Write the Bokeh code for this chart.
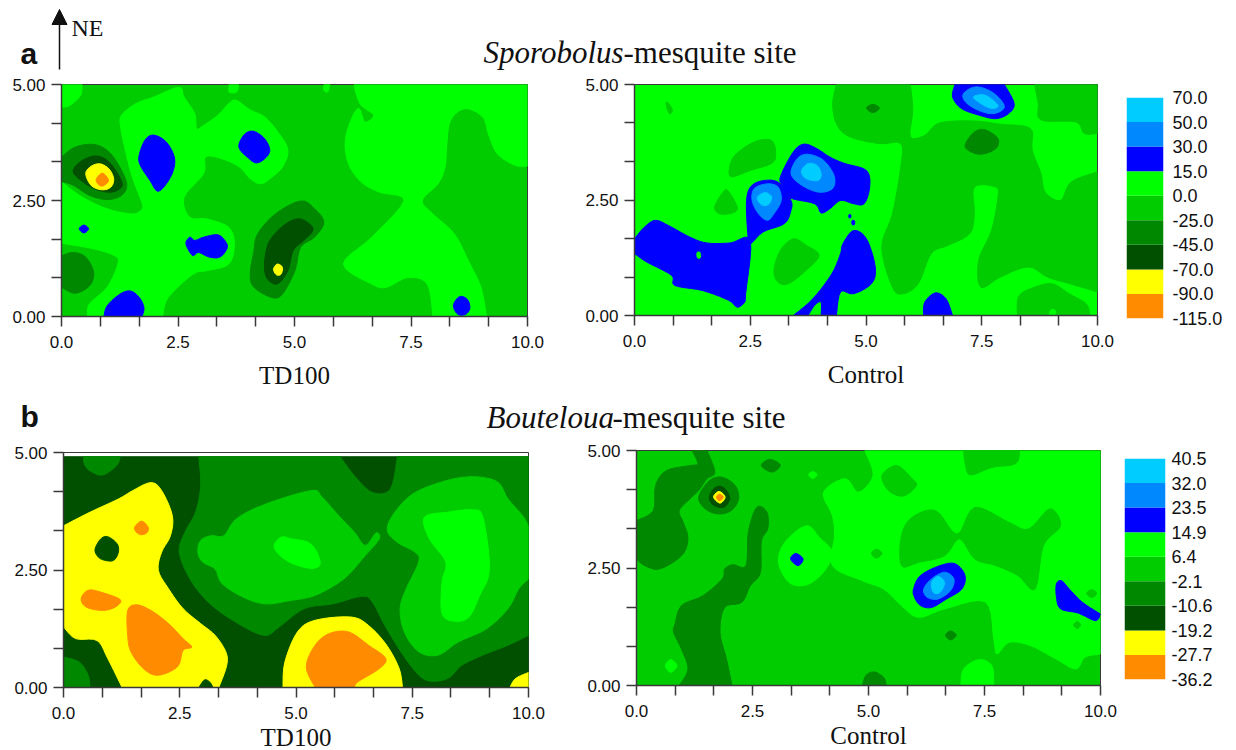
from bokeh.embed import file_html
from bokeh.resources import INLINE
from bokeh.plotting import figure
from bokeh.layouts import column, row
from bokeh.models import (Arrow, ColumnDataSource, FixedTicker, Label, NormalHead, Range1d)

# ---- legend data ----------------------------------------------------------
COLORS = ["#ff8c00", "#ffff00", "#005000", "#008800", "#00cc00",
          "#00ff00", "#0000ff", "#0088ff", "#00ccff"]
ORANGE, YELLOW, DARKEST, DARK, MID, BRIGHT, BLUE, MIDBLUE, LIGHT = COLORS
levels_a = ["-115.0", "-90.0", "-70.0", "-45.0", "-25.0", "0.0", "15.0", "30.0", "50.0", "70.0"]
levels_b = ["-36.2", "-27.7", "-19.2", "-10.6", "-2.1", "6.4", "14.9", "23.5", "32.0", "40.5"]
x_ticks = [0, 0.8333, 1.6667, 2.5, 3.3333, 4.1667, 5, 5.8333, 6.6667, 7.5, 8.3333, 9.1667, 10]
x_labels = {2.5: "2.5", 0: "0.0", 5: "5.0", 7.5: "7.5", 10: "10.0"}
y_ticks = [0, 0.8333, 1.6667, 2.5, 3.3333, 4.1667, 5]
y_labels = {0: "0.00", 2.5: "2.50", 5: "5.00"}

# ---- panel a, TD100: contour outlines (x, y) ------------------------------
a1_b1 = [(0,5),(.44,5),(.41,4.77),(.18,4.55),(0,4.51)]
a1_b2 = [(0,2.90),(.45,2.57),(.98,2.32),(1.52,2.21),(1.73,2.32),(1.71,2.50),(1.52,3.0),(1.37,3.58),(1.27,4.08),(1.29,4.34),(1.60,4.59),(1.98,4.73),(2.52,4.94),(2.63,4.73),(2.86,4.37),(2.90,4.05),(3.05,4.12),(3.36,4.34),(3.59,4.59),(3.75,4.66),(4.05,4.45),(4.36,4.30),(4.67,3.94),(4.86,3.58),(4.74,3.22),(4.51,3.0),(4.28,2.86),(4.05,2.97),(3.82,3.22),(3.44,3.40),(3.09,3.44),(3.05,3.08),(2.63,2.57),(2.75,2.14),(3.13,2.10),(3.59,1.92),(3.71,1.56),(3.59,1.13),(3.13,.99),(2.82,.91),(2.29,.41),(2.17,0),(.56,0),(.60,.27),(.98,.63),(1.21,1.13),(1.14,1.31),(.68,1.46),(0,1.58)]
a1_b3 = [(3.6,5),(3.8,5),(3.76,4.84),(3.6,4.84)]
a1_b4 = [(5.63,5),(5.76,5),(5.71,4.84),(5.63,4.88)]
a1_b5 = [(6.28,5),(10,5),(10,3.24),(9.73,3.26),(9.35,3.51),(9.16,3.94),(9.04,4.30),(8.66,4.48),(8.35,4.23),(8.27,3.72),(8.23,3.22),(8.08,2.86),(7.74,2.50),(7.97,2.21),(8.43,1.78),(8.73,1.20),(9.0,.63),(9.12,0),(7.97,0),(7.85,.70),(7.43,.84),(6.97,.63),(6.66,.70),(6.05,1.13),(6.66,1.71),(7.35,2.50),(6.82,2.68),(6.43,2.90),(6.16,3.29),(6.09,3.80),(6.24,4.30),(6.39,4.48),(6.51,4.19),(6.70,4.34),(6.43,4.55),(6.32,4.81)]
a1_d1 = [(0,3.44),(.29,3.65),(.68,3.71),(.98,3.58),(1.21,3.29),(1.40,2.86),(1.29,2.61),(.98,2.52),(.60,2.61),(.25,2.83),(0,2.91)]
a1_x1 = [(.25,3.15),(.44,3.36),(.75,3.46),(1.02,3.33),(1.25,3.0),(1.29,2.79),(1.06,2.68),(.71,2.75),(.37,2.97)]
a1_y1 = [(.52,3.08),(.64,3.24),(.83,3.29),(1.02,3.18),(1.12,2.97),(1.06,2.79),(.87,2.73),(.64,2.82)]
a1_o1 = [(.75,2.97),(.87,3.09),(.98,3.0),(1.0,2.90),(.87,2.81),(.77,2.87)]
a1_d2 = [(0,1.31),(.25,1.38),(.52,1.28),(.69,.95),(.60,.66),(.29,.50),(0,.63)]
a1_d3 = [(4.21,1.78),(4.59,2.21),(5.13,2.49),(5.43,2.32),(5.63,2.03),(5.43,1.71),(5.13,1.49),(5.01,.99),(4.74,.48),(4.51,.41),(4.13,.63),(4.05,.91),(4.13,1.42)]
a1_x2 = [(4.47,1.64),(4.82,2.0),(5.13,2.10),(5.40,1.89),(5.20,1.64),(4.97,1.42),(4.86,.99),(4.63,.70),(4.40,.84),(4.36,1.2)]
a1_y2 = [(4.55,1.02),(4.63,1.13),(4.74,1.06),(4.71,.91),(4.61,.90)]
a1_u1 = [(1.66,3.44),(1.79,3.80),(1.98,3.91),(2.25,3.76),(2.42,3.44),(2.40,3.15),(2.25,2.86),(2.06,2.70),(1.90,2.93),(1.71,3.22)]
a1_u2 = [(3.81,3.72),(3.94,3.94),(4.13,3.99),(4.36,3.83),(4.47,3.58),(4.36,3.40),(4.17,3.31),(3.98,3.44),(3.84,3.58)]
a1_u3 = [(.38,1.89),(.48,1.97),(.58,1.89),(.48,1.80)]
a1_u4 = [(2.67,1.60),(2.76,1.71),(2.86,1.64),(3.05,1.71),(3.36,1.76),(3.53,1.60),(3.55,1.46),(3.40,1.28),(3.17,1.28),(2.94,1.38),(2.82,1.31),(2.71,1.46)]
a1_u5 = [(.91,0),(.98,.23),(1.25,.48),(1.48,.55),(1.67,.41),(1.77,.19),(1.73,0)]
a1_u6 = [(8.41,.23),(8.50,.40),(8.61,.43),(8.73,.34),(8.76,.16),(8.66,.04),(8.50,.05)]

# ---- panel a, Control ------------------------------------------------------
a2_m1 = [(4.36,5),(5.96,5),(6.01,4.44),(5.96,3.87),(6.27,3.90),(6.59,4.17),(7.34,4.21),(7.90,4.14),(8.55,4.05),(8.59,3.58),(8.78,3.07),(8.87,2.67),(9.20,2.49),(9.43,2.89),(10,3.11),(10,.51),(9.39,.69),(8.92,.83),(8.50,1.05),(7.90,.83),(7.48,.61),(7.43,1.19),(7.71,1.84),(7.85,2.57),(7.80,2.78),(7.34,2.78),(7.34,2.20),(7.24,1.77),(6.78,1.52),(6.41,1.34),(6.13,.69),(5.80,.47),(5.57,.61),(5.34,1.48),(5.57,2.20),(5.75,3.22),(5.75,3.72),(5.29,3.72),(4.64,3.87),(4.36,4.15),(4.28,4.59)]
a2_m2 = [(8.64,5),(10,5),(10,3.94),(9.71,3.94),(9.53,4.19),(8.78,4.23),(8.72,4.59)]
a2_m3 = [(8.27,0),(8.29,.40),(8.55,.58),(9.01,.69),(9.39,.47),(9.76,.25),(9.83,0)]
a2_m4 = [(2.05,3.18),(2.17,3.47),(2.59,3.76),(2.96,3.79),(3.05,3.50),(2.96,3.29),(2.50,3.14),(2.10,3.0)]
a2_m5 = [(1.73,2.35),(1.89,2.64),(2.01,2.71),(2.22,2.35),(2.12,2.22),(1.84,2.20)]
a2_m6 = [(3.01,.98),(3.15,1.41),(3.43,1.66),(3.71,1.52),(3.99,1.30),(3.71,.98),(3.33,.69),(3.10,.72)]
a2_m7 = [(.68,4.59),(.73,4.60),(.82,4.44),(.75,4.37)]
a2_b1 = [(8.95,0),(8.99,.12),(9.08,.12),(9.1,0)]
a2_d1 = [(7.15,3.72),(7.34,3.97),(7.57,4.02),(7.85,3.83),(7.80,3.61),(7.48,3.49),(7.20,3.58)]
a2_d2 = [(5.01,4.49),(5.15,4.57),(5.29,4.49),(5.15,4.39)]
a2_u1 = [(0,1.66),(.21,1.91),(.45,2.06),(.73,1.95),(1.19,1.70),(1.56,1.57),(2.07,1.57),(2.50,1.63),(2.40,.47),(2.38,.29),(2.22,.18),(2.03,.33),(1.47,.54),(.87,.65),(.80,.87),(.26,1.16),(0,1.34)]
a2_u2 = [(2.45,1.73),(2.42,2.49),(2.54,2.82),(2.87,2.93),(3.15,2.85),(3.38,2.49),(3.38,2.28),(3.24,1.99),(2.78,1.81),(2.50,1.55)]
a2_v2 = [(2.54,2.49),(2.59,2.75),(2.87,2.85),(3.10,2.78),(3.17,2.49),(3.01,2.20),(2.87,2.06),(2.68,2.20)]
a2_l2 = [(2.66,2.57),(2.82,2.66),(2.96,2.57),(2.91,2.42),(2.79,2.38),(2.68,2.46)]
a2_u3 = [(3.15,3.0),(3.43,3.54),(3.66,3.71),(3.94,3.61),(4.22,3.43),(4.54,3.29),(5.01,3.14),(5.08,2.78),(4.96,2.42),(4.73,2.42),(4.45,2.49),(4.22,2.31),(4.03,2.22),(3.89,2.42),(3.35,2.55),(3.2,2.8)]
a2_v3 = [(3.38,3.07),(3.52,3.40),(3.75,3.49),(4.08,3.36),(4.31,3.03),(4.28,2.75),(3.98,2.67),(3.61,2.82)]
a2_l3 = [(3.61,3.14),(3.75,3.29),(3.94,3.25),(4.03,3.07),(3.98,2.93),(3.80,2.93),(3.66,3.0)]
a2_u4 = [(6.92,5),(7.99,5),(8.20,4.59),(8.08,4.37),(7.80,4.26),(7.43,4.34),(7.06,4.48),(6.87,4.73)]
a2_v4 = [(7.11,4.81),(7.39,4.95),(7.76,4.81),(7.99,4.52),(7.76,4.37),(7.43,4.44),(7.15,4.62)]
a2_l4 = [(7.32,4.73),(7.57,4.77),(7.85,4.55),(7.71,4.48),(7.48,4.59)]
a2_u5 = [(4.50,1.55),(4.73,1.84),(5.01,1.66),(5.20,1.05),(5.12,.69),(4.73,.47),(4.45,.51),(4.36,0),(4.03,0),(4.03,.29),(3.89,.22),(3.75,0),(3.43,0),(3.85,.36),(4.26,.90),(4.45,1.34)]
a2_u6 = [(6.24,0),(6.27,.29),(6.50,.49),(6.73,.36),(6.87,0)]
a2_u7 = [(4.63,2.18),(4.67,2.18),(4.67,2.12),(4.63,2.12)]
a2_u8 = [(4.70,2.05),(4.75,2.05),(4.75,1.97),(4.70,1.97)]
a2_g1 = [(1.35,1.36),(1.42,1.36),(1.42,1.25),(1.36,1.25)]

# ---- panel b, TD100 --------------------------------------------------------
b1_x0 = [(0,0),(10,0),(10,4.91),(0,4.91)]
b1_d1 = [(.43,4.91),(1.22,4.91),(1.14,4.72),(.84,4.52),(.57,4.61),(.45,4.75)]
b1_y1 = [(0,3.44),(.57,3.73),(1.18,4.01),(1.49,4.19),(1.88,4.36),(2.11,4.19),(2.34,3.66),(2.30,3.23),(2.11,2.88),(2.04,2.49),(2.26,2.10),(2.57,1.68),(2.95,1.36),(3.26,1.11),(3.49,.76),(3.51,.47),(3.34,0),(1.26,0),(.95,.62),(.72,1.0),(.26,1.04),(0,1.29)]
b1_d2 = [(0,.65),(.34,.54),(.53,.26),(.57,0),(0,0)]
b1_x1 = [(.68,2.95),(.80,3.16),(.95,3.21),(1.15,3.06),(1.18,2.88),(1.07,2.70),(.84,2.72),(.72,2.81)]
b1_o1 = [(1.53,3.41),(1.68,3.54),(1.82,3.41),(1.80,3.30),(1.68,3.25),(1.57,3.30)]
b1_o2 = [(.38,1.89),(.53,2.07),(.80,2.03),(1.22,1.87),(1.11,1.71),(.84,1.64),(.49,1.71)]
b1_o3 = [(1.38,1.64),(1.57,1.76),(1.88,1.64),(2.26,1.36),(2.57,1.04),(2.76,.86),(2.57,.79),(2.45,.44),(2.03,.26),(1.72,.40),(1.45,.76),(1.38,1.11)]
b1_y2 = [(4.72,0),(4.76,.54),(5.03,1.18),(5.41,1.43),(6.18,1.50),(6.56,1.32),(6.95,.90),(7.22,.40),(7.29,0)]
b1_o4 = [(5.41,0),(5.22,.44),(5.41,.90),(5.72,1.15),(6.14,1.18),(6.56,.90),(6.93,.62),(6.79,.40),(6.33,.12),(6.26,0)]
b1_y3 = [(9.60,0),(9.72,.19),(10,.32),(10,0)]
b1_x2 = [(2.91,0),(3.03,.16),(3.14,.12),(3.22,0)]
b1_d3 = [(2.91,4.91),(5.95,4.91),(6.26,4.50),(6.64,4.15),(7.03,4.22),(7.18,4.91),(10,4.91),(10,1.11),(9.56,.90),(9.02,.69),(8.56,.47),(8.26,.19),(7.79,.16),(7.41,.54),(6.95,1.25),(6.64,1.82),(6.41,1.94),(5.80,1.78),(5.18,1.68),(4.64,1.29),(4.30,1.11),(3.64,1.43),(3.11,1.82),(2.72,2.31),(2.49,2.88),(2.61,3.30),(2.84,3.73),(2.95,4.29)]
b1_m1 = [(2.89,2.88),(2.95,3.13),(3.18,3.23),(3.45,3.23),(3.72,3.59),(4.34,3.90),(5.33,4.19),(5.56,4.05),(5.95,3.62),(6.26,3.30),(6.49,3.02),(6.72,3.29),(6.79,3.16),(6.49,2.81),(6.03,2.31),(5.41,1.96),(4.87,1.85),(4.34,1.78),(3.87,1.92),(3.41,2.21),(3.26,2.52),(2.99,2.67)]
b1_b1 = [(4.53,2.98),(4.68,3.20),(4.91,3.16),(5.26,3.09),(5.45,2.88),(5.51,2.60),(5.26,2.54),(4.80,2.70)]
b1_m2 = [(6.96,3.37),(7.18,3.80),(7.64,4.19),(8.56,4.47),(9.29,4.40),(9.56,4.01),(9.87,3.66),(10,3.44),(10,2.31),(9.79,2.10),(9.56,1.68),(9.10,1.25),(8.49,.97),(8.06,.69),(7.64,.76),(7.33,1.18),(7.24,1.68),(7.37,2.10),(7.64,2.67),(7.56,2.88),(7.18,3.09)]
b1_b2 = [(7.76,3.62),(8.26,3.73),(8.79,3.78),(9.02,3.62),(9.16,2.52),(8.95,1.96),(8.72,1.50),(8.41,1.41),(8.14,1.57),(8.14,2.24),(8.22,2.67),(7.87,3.16)]

# ---- panel b, Control ------------------------------------------------------
b2_b1 = [(4.92,5),(10,5),(10,.67),(9.66,.60),(9.47,.35),(9.05,.56),(8.49,.85),(8.03,.92),(7.77,.67),(7.70,.99),(7.52,1.78),(6.64,1.63),(6.08,1.45),(5.71,1.70),(5.33,2.05),(4.87,2.23),(4.22,2.55),(4.27,3.19),(4.22,3.62),(4.03,4.11),(4.50,4.40),(4.78,4.11),(5.10,4.47)]
b2_m1 = [(7.05,5),(8.26,5),(8.17,4.72),(7.66,4.64),(7.19,4.48),(7.08,4.75)]
b2_m2 = [(5.29,4.47),(5.61,4.68),(5.94,4.40),(6.03,4.25),(5.75,4.03),(5.43,4.15)]
b2_m3 = [(5.71,3.19),(5.94,3.58),(6.45,3.72),(6.91,3.22),(7.29,3.79),(8.03,3.47),(8.45,3.33),(8.91,3.76),(9.14,3.40),(8.77,2.98),(8.59,2.05),(8.22,2.34),(7.75,2.55),(7.29,2.69),(6.96,3.12),(6.64,2.76),(6.08,2.62),(5.71,2.55)]
b2_b2 = [(3.06,2.62),(3.20,3.05),(3.66,3.40),(3.94,3.15),(4.22,2.83),(4.03,2.41),(3.66,2.14),(3.29,2.19)]
b2_b3 = [(6.99,0),(7.05,.35),(7.38,.55),(7.66,.42),(7.70,0)]
b2_b4 = [(.62,.42),(.74,.55),(.87,.42),(.74,.28)]
b2_b5 = [(3.71,4.49),(3.80,4.55),(3.89,4.49),(3.80,4.40)]
b2_m4 = [(5.06,2.81),(5.17,2.90),(5.29,2.81),(5.17,2.71)]
b2_m5 = [(9.70,1.96),(9.81,2.04),(9.92,1.96),(9.81,1.87)]
b2_m6 = [(9.42,1.29),(9.50,1.36),(9.57,1.29),(9.50,1.21)]
b2_d1 = [(6.66,1.07),(6.77,1.16),(6.89,1.07),(6.77,.97)]
b2_d2 = [(0,3.51),(.36,3.72),(.41,4.25),(.64,4.57),(1.15,4.68),(1.32,4.72),(1.20,5),(1.52,5),(1.69,4.54),(1.52,4.40),(1.34,4.15),(1.15,3.97),(.92,3.72),(1.01,3.47),(1.11,3.12),(.97,2.76),(.50,2.48),(.18,2.55),(0,2.69)]
b2_d3 = [(1.34,4.01),(1.57,4.36),(1.85,4.43),(2.13,4.25),(2.20,3.97),(2.04,3.72),(1.76,3.65),(1.48,3.76)]
b2_x1 = [(1.57,4.01),(1.66,4.18),(1.80,4.24),(1.94,4.15),(2.01,3.97),(1.91,3.81),(1.78,3.79),(1.63,3.86)]
b2_y1 = [(1.66,4.01),(1.78,4.13),(1.91,4.01),(1.80,3.88)]
b2_o1 = [(1.72,4.01),(1.79,4.07),(1.87,4.01),(1.79,3.93)]
b2_d4 = [(2.69,4.68),(2.87,4.81),(3.10,4.69),(2.92,4.54)]
b2_d5 = [(.83,1.31),(.97,1.70),(1.43,1.91),(1.85,2.27),(1.90,2.48),(2.08,2.57),(2.36,2.55),(2.41,3.26),(2.59,3.79),(2.81,3.69),(2.83,3.34),(2.69,3.07),(2.67,2.40),(2.45,2.12),(2.27,1.77),(1.90,1.66),(1.80,1.13),(1.94,.56),(2.06,0),(.92,0),(1.11,.35),(.97,.77),(.80,1.13)]
b2_d6 = [(4.87,0),(4.94,.21),(5.12,.29),(5.33,.17),(5.38,0)]
b2_u1 = [(3.32,2.69),(3.43,2.81),(3.59,2.69),(3.48,2.55)]
b2_u2 = [(5.97,2.05),(6.12,2.34),(6.54,2.55),(6.87,2.59),(7.08,2.34),(7.01,2.05),(6.68,1.84),(6.36,1.66),(6.12,1.70),(5.99,1.88)]
b2_v2 = [(6.19,2.05),(6.36,2.27),(6.64,2.41),(6.84,2.27),(6.77,2.02),(6.50,1.84),(6.26,1.88)]
b2_l2 = [(6.36,2.19),(6.50,2.32),(6.64,2.19),(6.54,1.98),(6.40,1.98)]
b2_u3 = [(9.05,2.16),(9.16,2.23),(9.33,2.05),(9.61,1.77),(10,1.52),(9.89,1.38),(9.52,1.54),(9.14,1.63),(9.05,1.88)]

regions_a1 = [(BRIGHT, a1_b1), (BRIGHT, a1_b2), (BRIGHT, a1_b3), (BRIGHT, a1_b4), (BRIGHT, a1_b5),
              (DARK, a1_d1), (DARKEST, a1_x1), (YELLOW, a1_y1), (ORANGE, a1_o1), (DARK, a1_d2),
              (DARK, a1_d3), (DARKEST, a1_x2), (YELLOW, a1_y2), (BLUE, a1_u1), (BLUE, a1_u2),
              (BLUE, a1_u3), (BLUE, a1_u4), (BLUE, a1_u5), (BLUE, a1_u6)]
regions_a2 = [(MID, a2_m1), (MID, a2_m2), (MID, a2_m3), (MID, a2_m4), (MID, a2_m5), (MID, a2_m6), (MID, a2_m7),
              (BRIGHT, a2_b1), (DARK, a2_d1), (DARK, a2_d2), (BLUE, a2_u1), (BLUE, a2_u2), (MIDBLUE, a2_v2),
              (LIGHT, a2_l2), (BLUE, a2_u3), (MIDBLUE, a2_v3), (LIGHT, a2_l3), (BLUE, a2_u4), (MIDBLUE, a2_v4),
              (LIGHT, a2_l4), (BLUE, a2_u5), (BLUE, a2_u6), (BLUE, a2_u7), (BLUE, a2_u8), (BRIGHT, a2_g1)]
regions_b1 = [(DARKEST, b1_x0), (DARK, b1_d1), (YELLOW, b1_y1), (DARK, b1_d2), (DARKEST, b1_x1), (ORANGE, b1_o1),
              (ORANGE, b1_o2), (ORANGE, b1_o3), (YELLOW, b1_y2), (ORANGE, b1_o4), (YELLOW, b1_y3), (DARKEST, b1_x2),
              (DARK, b1_d3), (MID, b1_m1), (BRIGHT, b1_b1), (MID, b1_m2), (BRIGHT, b1_b2)]
regions_b2 = [(BRIGHT, b2_b1), (MID, b2_m1), (MID, b2_m2), (MID, b2_m3), (BRIGHT, b2_b2), (BRIGHT, b2_b3),
              (BRIGHT, b2_b4), (BRIGHT, b2_b5), (MID, b2_m4), (MID, b2_m5), (MID, b2_m6), (DARK, b2_d1),
              (DARK, b2_d2), (DARK, b2_d3), (DARKEST, b2_x1), (YELLOW, b2_y1), (ORANGE, b2_o1), (DARK, b2_d4),
              (DARK, b2_d5), (DARK, b2_d6), (BLUE, b2_u1), (BLUE, b2_u2), (MIDBLUE, b2_v2), (LIGHT, b2_l2), (BLUE, b2_u3)]

TICK_FONT = "Liberation Sans"
TEXT = "#111111"
AXIS = "#3a3a3a"


def on_edge(pt):
    return pt[0] in (0, 10) or pt[1] in (0, 5, 4.91)


def outline(pts, steps=5):
    n = len(pts)
    out = []
    for i in range(n):
        p1, p2 = pts[i], pts[(i + 1) % n]
        if on_edge(p1) and on_edge(p2):
            out.append(p1)
            continue
        p0 = p1 if on_edge(p1) else pts[i - 1]
        p3 = p2 if on_edge(p2) else pts[(i + 2) % n]
        for k in range(steps):
            t = k / steps
            out.append(tuple(0.5 * (2 * b + (c - a) * t + (2 * a - 5 * b + 4 * c - d) * t * t
                                    + (3 * b - a - 3 * c + d) * t ** 3)
                             for a, b, c, d in zip(p0, p1, p2, p3)))
    return out


def panel(regions, bg, caption, left, frame_w, right, top, frame_h, bottom, standoff):
    p = figure(frame_width=frame_w, frame_height=frame_h,
               x_range=Range1d(0, 10), y_range=Range1d(0, 5),
               toolbar_location=None, output_backend="svg", frame_align=False,
               min_border_left=left, min_border_right=right,
               min_border_top=top, min_border_bottom=bottom,
               background_fill_color=bg, outline_line_color=AXIS, outline_line_width=1)
    p.grid.visible = False
    curves = [outline(r[1]) for r in regions]
    src = ColumnDataSource(dict(
        xs=[[v[0] for v in c] for c in curves],
        ys=[[v[1] for v in c] for c in curves],
        c=[r[0] for r in regions]))
    p.patches("xs", "ys", source=src, fill_color="c", line_color="c", line_width=1, line_join="round")
    for ax, ticks, labs in ((p.xaxis[0], x_ticks, x_labels), (p.yaxis[0], y_ticks, y_labels)):
        ax.ticker = FixedTicker(ticks=ticks)
        ax.major_label_overrides = {t: labs.get(t, "") for t in ticks}
        ax.major_tick_out = 10
        ax.major_tick_in = 0
        ax.minor_tick_line_color = None
        ax.major_tick_line_color = AXIS
        ax.major_tick_line_width = 1.5
        ax.axis_line_color = AXIS
        ax.axis_line_width = 1.5
        ax.major_label_text_font = TICK_FONT
        ax.major_label_text_font_size = "17px"
        ax.major_label_text_color = TEXT
    p.xaxis[0].major_label_standoff = 9
    p.yaxis[0].major_label_standoff = 6
    p.xaxis[0].axis_label = caption
    p.xaxis[0].axis_label_standoff = standoff
    p.xaxis[0].axis_label_text_font = "Liberation Serif"
    p.xaxis[0].axis_label_text_font_style = "normal"
    p.xaxis[0].axis_label_text_font_size = "25px"
    p.xaxis[0].axis_label_text_line_height = 1.0
    p.xaxis[0].axis_label_text_color = TEXT
    return p


def legend(levels, left, frame_w, right, top, bottom, standoff):
    p = figure(frame_width=frame_w, frame_height=221,
               x_range=Range1d(0, 1), y_range=Range1d(0, len(COLORS)),
               toolbar_location=None, output_backend="svg", x_axis_type=None, y_axis_location="right",
               frame_align=False,
               min_border_left=left, min_border_right=right, min_border_top=top, min_border_bottom=bottom,
               outline_line_color=None)
    p.grid.visible = False
    idx = list(range(len(COLORS)))
    p.quad(left=0, right=1, bottom=idx, top=[i + 1 for i in idx], fill_color=COLORS, line_color=None)
    ax = p.yaxis[0]
    ax.ticker = FixedTicker(ticks=list(range(len(levels))))
    ax.major_label_overrides = {i: s for i, s in enumerate(levels)}
    ax.major_tick_line_color = None
    ax.minor_tick_line_color = None
    ax.axis_line_color = None
    ax.major_label_standoff = standoff
    ax.major_label_text_font = TICK_FONT
    ax.major_label_text_font_size = "18px"
    ax.major_label_text_color = TEXT
    return p


def header(height, top, italic, rest, letter, letter_y, title_x, rest_x, title_y, arrow=False):
    p = figure(width=1236, height=height, x_range=Range1d(0, 1236), y_range=Range1d(top + height, top),
               toolbar_location=None, output_backend="svg", x_axis_type=None, y_axis_type=None,
               frame_align=False, min_border=0, outline_line_color=None)
    p.grid.visible = False
    p.add_layout(Label(x=20, y=letter_y, text=letter, text_font="Liberation Sans", text_font_style="bold",
                       text_font_size="30px", text_color="#111111", text_baseline="middle"))
    p.add_layout(Label(x=title_x, y=title_y, text=italic, text_font="Liberation Serif",
                       text_font_style="italic", text_font_size="31px", text_color=TEXT,
                       text_baseline="middle"))
    p.add_layout(Label(x=rest_x, y=title_y, text=rest, text_font="Liberation Serif",
                       text_font_size="31px", text_color=TEXT, text_baseline="middle"))
    if arrow:
        p.add_layout(Arrow(x_start=59, y_start=69, x_end=59, y_end=9, line_color="#111111", line_width=1.5,
                           end=NormalHead(size=15, fill_color="#111111", line_color="#111111")))
        p.add_layout(Label(x=71, y=27, text="NE", text_font="Liberation Serif", text_font_size="24px",
                           text_color=TEXT, text_baseline="middle"))
    return p


top_a = header(72, 0, "Sporobolus", "-mesquite site", "a", 53, 483, 623, 52, arrow=True)
row_a = row(panel(regions_a1, MID, "TD100", 61, 466, 53, 12, 232, 70, 11),
            panel(regions_a2, BRIGHT, "Control", 54, 463, 23, 12, 231, 71, 11),
            legend(levels_a, 6, 37, 73, 25, 68, 3))
top_b = header(49, 391, "Bouteloua", "-mesquite site", "b", 416, 486, 612, 417)
row_b = row(panel(regions_b1, "#ffffff", "TD100", 63, 465, 52, 12, 235, 63, 2),
            panel(regions_b2, MID, "Control", 56, 464, 20, 10, 235, 65, 2),
            legend(levels_b, 4, 41, 71, 18, 71, 0))
page = column(top_a, row_a, top_b, row_b)
open("out.html", "w").write(file_html(page, INLINE))
